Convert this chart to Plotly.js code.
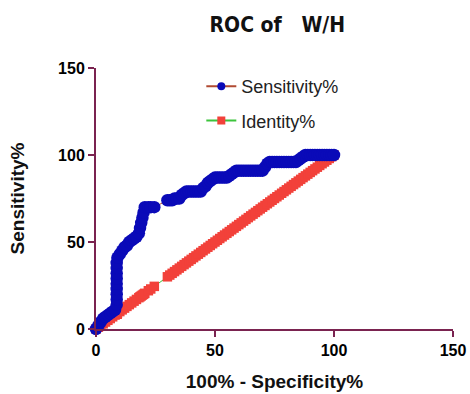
<!DOCTYPE html>
<html>
<head>
<meta charset="utf-8">
<script src="https://cdn.plot.ly/plotly-3.0.1.min.js"></script>
<style>
  html, body { margin: 0; padding: 0; background: #ffffff; }
  #chart { width: 470px; height: 394px; }
</style>
</head>
<body>
<div id="chart"></div>
<script>
// 100% - Specificity% (x) and Sensitivity% (y)
const specX = [0, 1, 2, 3, 4, 5, 6, 7, 8,
  8.7, 8.7, 8.7, 8.7, 8.7, 8.7, 8.7, 8.7, 8.7, 9, 10, 11, 12, 13, 14, 15, 16, 17, 18,
  18.5, 19, 19.5, 20, 20.5, 22, 23, 24.5,
  30, 31, 32, 33, 34, 35, 36, 37, 38, 39, 40, 41, 42, 43, 44, 45, 46, 47, 48, 49,
  50, 51, 52, 53, 54, 55, 56, 57, 58, 59, 60, 61, 62, 63, 64, 65, 66, 67, 68, 69, 70,
  71, 72, 73, 74, 75, 76, 77, 78, 79, 80, 81, 82, 83, 84, 85, 86, 87, 88, 89, 90,
  91, 92, 93, 94, 95, 96, 97, 98, 99, 100];
const sensY = [0, 2, 4, 6, 7, 8, 9, 10, 11,
  14, 17, 20, 23, 26, 29, 32, 35, 38, 41, 43, 45, 47, 48, 50, 51, 52, 53, 55,
  58, 61, 64, 67, 70, 70, 70, 70,
  74, 74, 74, 75, 75, 75, 77, 78, 79, 79, 79, 79, 79, 79, 79, 81, 82, 84, 85, 86,
  87, 87, 87, 87, 87, 87, 88, 89, 90, 91, 91, 91, 91, 91, 91, 91, 91, 91, 91, 91, 91,
  93, 95, 96, 96, 96, 96, 96, 96, 96, 96, 96, 96, 96, 96, 97, 98, 99, 100, 100, 100,
  100, 100, 100, 100, 100, 100, 100, 100, 100, 100];
// Identity% line (same x positions, y equal to x)
const identX = specX;
const identY = [0, 1, 2, 3, 4, 5, 6, 7, 8,
  8.7, 8.7, 8.7, 8.7, 8.7, 8.7, 8.7, 8.7, 8.7, 9, 10, 11, 12, 13, 14, 15, 16, 17, 18,
  18.5, 19, 19.5, 20, 20.5, 22, 23, 24.5,
  30, 31, 32, 33, 34, 35, 36, 37, 38, 39, 40, 41, 42, 43, 44, 45, 46, 47, 48, 49,
  50, 51, 52, 53, 54, 55, 56, 57, 58, 59, 60, 61, 62, 63, 64, 65, 66, 67, 68, 69, 70,
  71, 72, 73, 74, 75, 76, 77, 78, 79, 80, 81, 82, 83, 84, 85, 86, 87, 88, 89, 90,
  91, 92, 93, 94, 95, 96, 97, 98, 99, 100];
const tickVals = [0, 50, 100, 150];
const tickText = ["0", "50", "100", "150"];
const seriesNames = ["Sensitivity%", "Identity%"];

const axisColor = "#7a2350";
const font = "Liberation Sans, Arial, sans-serif";
const titleFont = "Liberation Sans Narrow, Arial Narrow, DejaVu Sans Condensed, sans-serif";

const sensColor = "#0a0ab8", sensLine = "#b04a32";
const identColor = "#f2413a", identLine = "#3cc43c";

const traces = [
  {
    x: identX, y: identY, name: seriesNames[1], type: "scatter", mode: "lines+markers",
    showlegend: false,
    line: { color: identLine, width: 1 },
    marker: { symbol: "square", size: 9.5, color: identColor },
    cliponaxis: false
  },
  {
    x: specX, y: sensY, name: seriesNames[0], type: "scatter", mode: "lines+markers",
    showlegend: false,
    line: { color: sensLine, width: 1 },
    marker: { symbol: "circle", size: 12.5, color: sensColor },
    cliponaxis: false
  },
  // legend entries (no points of their own)
  {
    x: [null], y: [null], name: seriesNames[0], type: "scatter", mode: "lines+markers",
    legendgroup: "a", legendrank: 1,
    line: { color: sensLine, width: 2 },
    marker: { symbol: "circle", size: 8, color: sensColor }
  },
  {
    x: [null], y: [null], name: seriesNames[1], type: "scatter", mode: "lines+markers",
    legendgroup: "b", legendrank: 2,
    line: { color: identLine, width: 2 },
    marker: { symbol: "square", size: 8, color: identColor }
  }
];

const layout = {
  width: 470, height: 394,
  margin: { l: 96, r: 17, t: 68, b: 65 },
  paper_bgcolor: "#ffffff", plot_bgcolor: "#ffffff",
  font: { family: font, color: "#000000" },
  title: {
    text: "<b>ROC of   W/H</b>",
    font: { family: titleFont, size: 21, color: "#111111" },
    x: 0.59, xanchor: "center", y: 0.937, yanchor: "middle"
  },
  showlegend: true,
  legend: {
    x: 0.295, y: 1.0, xanchor: "left", yanchor: "top",
    bgcolor: "rgba(0,0,0,0)", font: { family: font, size: 18, color: "#222222" },
    tracegroupgap: 8, traceorder: "grouped", itemsizing: "trace"
  },
  xaxis: {
    range: [0, 150], tickvals: tickVals, ticktext: tickText,
    showgrid: false, zeroline: false, showline: true,
    linecolor: axisColor, linewidth: 2,
    ticks: "outside", ticklen: 6, tickwidth: 2, tickcolor: axisColor,
    tickfont: { family: font, size: 16, color: "#000000", weight: "bold" },
    title: { text: "<b>100% - Specificity%</b>", font: { family: font, size: 19, color: "#111111" }, standoff: 16 }
  },
  yaxis: {
    range: [0, 150], tickvals: tickVals, ticktext: tickText,
    showgrid: false, zeroline: false, showline: true,
    linecolor: axisColor, linewidth: 2,
    ticks: "outside", ticklen: 6, tickwidth: 2, tickcolor: axisColor,
    tickfont: { family: font, size: 16, color: "#000000", weight: "bold" },
    title: { text: "<b>Sensitivity%</b>", font: { family: font, size: 19, color: "#111111" }, standoff: 28 }
  }
};

Plotly.newPlot("chart", traces, layout, { displayModeBar: false, staticPlot: true });
</script>
</body>
</html>
